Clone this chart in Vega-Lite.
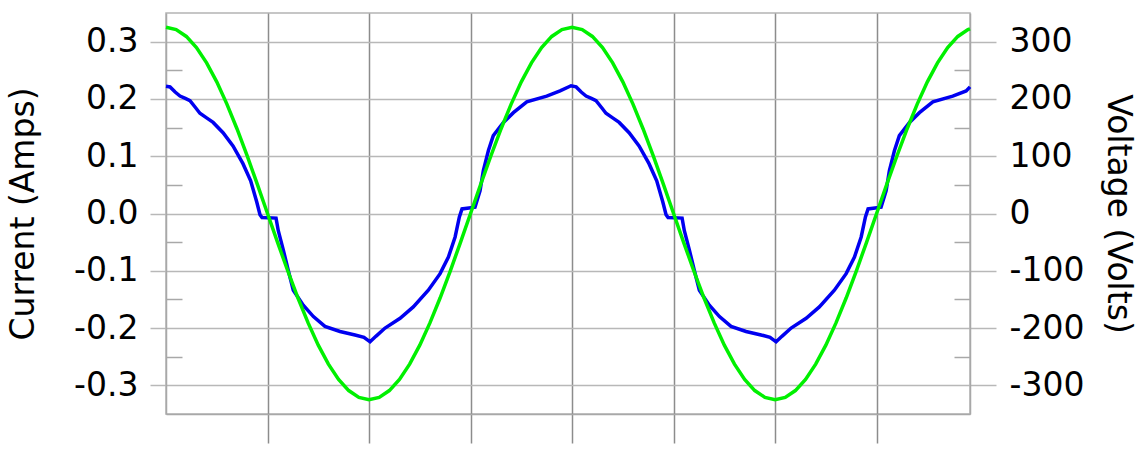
{
  "$schema": "https://vega.github.io/schema/vega-lite/v6.json",
  "width": 804,
  "height": 401,
  "autosize": "none",
  "padding": {"left": 166, "top": 13, "right": 174, "bottom": 36},
  "background": "white",
  "config": {
    "view": {"stroke": "#b4b4b4", "strokeWidth": 1.5},
    "axis": {
      "labelFont": "DejaVu Sans",
      "labelFontSize": 33,
      "labelColor": "#000000",
      "titleFont": "DejaVu Sans",
      "titleFontSize": 33,
      "titleFontWeight": "normal",
      "titleColor": "#000000",
      "domainColor": "#a8a8a8",
      "domainWidth": 1.5
    }
  },
  "datasets": {
    "cur": [
      {"t": 0, "current": 0.222}, {"t": 0.2, "current": 0.221}, {"t": 0.45, "current": 0.212}, {"t": 0.69, "current": 0.205},
      {"t": 0.95, "current": 0.201}, {"t": 1.18, "current": 0.197}, {"t": 1.45, "current": 0.185}, {"t": 1.67, "current": 0.175},
      {"t": 2.0, "current": 0.167}, {"t": 2.32, "current": 0.159}, {"t": 2.81, "current": 0.141}, {"t": 3.3, "current": 0.118},
      {"t": 3.79, "current": 0.087}, {"t": 4.17, "current": 0.057}, {"t": 4.47, "current": 0.02}, {"t": 4.63, "current": -0.002},
      {"t": 4.73, "current": -0.007}, {"t": 5.42, "current": -0.008}, {"t": 5.53, "current": -0.03}, {"t": 5.78, "current": -0.064},
      {"t": 6.02, "current": -0.099}, {"t": 6.27, "current": -0.134}, {"t": 6.76, "current": -0.16}, {"t": 7.26, "current": -0.18},
      {"t": 7.83, "current": -0.197}, {"t": 8.57, "current": -0.206}, {"t": 9.31, "current": -0.212}, {"t": 9.75, "current": -0.216},
      {"t": 10.05, "current": -0.224}, {"t": 10.35, "current": -0.214}, {"t": 10.79, "current": -0.2}, {"t": 11.53, "current": -0.183},
      {"t": 12.18, "current": -0.163}, {"t": 12.92, "current": -0.134}, {"t": 13.5, "current": -0.105}, {"t": 13.91, "current": -0.076},
      {"t": 14.24, "current": -0.041}, {"t": 14.45, "current": -0.006}, {"t": 14.58, "current": 0.008}, {"t": 15.22, "current": 0.011},
      {"t": 15.47, "current": 0.04}, {"t": 15.63, "current": 0.075}, {"t": 15.88, "current": 0.11}, {"t": 16.12, "current": 0.136},
      {"t": 16.62, "current": 0.159}, {"t": 17.11, "current": 0.176}, {"t": 17.77, "current": 0.195}, {"t": 18.75, "current": 0.205},
      {"t": 19.41, "current": 0.214}, {"t": 19.95, "current": 0.223},
      {"t": 20.2, "current": 0.221}, {"t": 20.45, "current": 0.212}, {"t": 20.69, "current": 0.205},
      {"t": 20.95, "current": 0.201}, {"t": 21.18, "current": 0.197}, {"t": 21.45, "current": 0.185}, {"t": 21.67, "current": 0.175},
      {"t": 22.0, "current": 0.167}, {"t": 22.32, "current": 0.159}, {"t": 22.81, "current": 0.141}, {"t": 23.3, "current": 0.118},
      {"t": 23.79, "current": 0.087}, {"t": 24.17, "current": 0.057}, {"t": 24.47, "current": 0.02}, {"t": 24.63, "current": -0.002},
      {"t": 24.73, "current": -0.007}, {"t": 25.42, "current": -0.008}, {"t": 25.53, "current": -0.03}, {"t": 25.78, "current": -0.064},
      {"t": 26.02, "current": -0.099}, {"t": 26.27, "current": -0.134}, {"t": 26.76, "current": -0.16}, {"t": 27.26, "current": -0.18},
      {"t": 27.83, "current": -0.197}, {"t": 28.57, "current": -0.206}, {"t": 29.31, "current": -0.212}, {"t": 29.75, "current": -0.216},
      {"t": 30.05, "current": -0.224}, {"t": 30.35, "current": -0.214}, {"t": 30.79, "current": -0.2}, {"t": 31.53, "current": -0.183},
      {"t": 32.18, "current": -0.163}, {"t": 32.92, "current": -0.134}, {"t": 33.5, "current": -0.105}, {"t": 33.91, "current": -0.076},
      {"t": 34.24, "current": -0.041}, {"t": 34.45, "current": -0.006}, {"t": 34.58, "current": 0.008}, {"t": 35.22, "current": 0.011},
      {"t": 35.47, "current": 0.04}, {"t": 35.63, "current": 0.075}, {"t": 35.88, "current": 0.11}, {"t": 36.12, "current": 0.136},
      {"t": 36.62, "current": 0.159}, {"t": 37.11, "current": 0.176}, {"t": 37.77, "current": 0.195}, {"t": 38.75, "current": 0.205},
      {"t": 39.41, "current": 0.214}, {"t": 39.6, "current": 0.221}
    ],
    "volt": [
      {"t": 0, "voltage": 325}, {"t": 0.5, "voltage": 321}, {"t": 1, "voltage": 309.1}, {"t": 1.5, "voltage": 289.6},
      {"t": 2, "voltage": 262.9}, {"t": 2.5, "voltage": 229.8}, {"t": 3, "voltage": 191}, {"t": 3.5, "voltage": 147.5},
      {"t": 4, "voltage": 100.4}, {"t": 4.5, "voltage": 50.8}, {"t": 5, "voltage": 0}, {"t": 5.5, "voltage": -50.8},
      {"t": 6, "voltage": -100.4}, {"t": 6.5, "voltage": -147.5}, {"t": 7, "voltage": -191}, {"t": 7.5, "voltage": -229.8},
      {"t": 8, "voltage": -262.9}, {"t": 8.5, "voltage": -289.6}, {"t": 9, "voltage": -309.1}, {"t": 9.5, "voltage": -321},
      {"t": 10, "voltage": -325}, {"t": 10.5, "voltage": -321}, {"t": 11, "voltage": -309.1}, {"t": 11.5, "voltage": -289.6},
      {"t": 12, "voltage": -262.9}, {"t": 12.5, "voltage": -229.8}, {"t": 13, "voltage": -191}, {"t": 13.5, "voltage": -147.5},
      {"t": 14, "voltage": -100.4}, {"t": 14.5, "voltage": -50.8}, {"t": 15, "voltage": 0}, {"t": 15.5, "voltage": 50.8},
      {"t": 16, "voltage": 100.4}, {"t": 16.5, "voltage": 147.5}, {"t": 17, "voltage": 191}, {"t": 17.5, "voltage": 229.8},
      {"t": 18, "voltage": 262.9}, {"t": 18.5, "voltage": 289.6}, {"t": 19, "voltage": 309.1}, {"t": 19.5, "voltage": 321},
      {"t": 20, "voltage": 325}, {"t": 20.5, "voltage": 321}, {"t": 21, "voltage": 309.1}, {"t": 21.5, "voltage": 289.6},
      {"t": 22, "voltage": 262.9}, {"t": 22.5, "voltage": 229.8}, {"t": 23, "voltage": 191}, {"t": 23.5, "voltage": 147.5},
      {"t": 24, "voltage": 100.4}, {"t": 24.5, "voltage": 50.8}, {"t": 25, "voltage": 0}, {"t": 25.5, "voltage": -50.8},
      {"t": 26, "voltage": -100.4}, {"t": 26.5, "voltage": -147.5}, {"t": 27, "voltage": -191}, {"t": 27.5, "voltage": -229.8},
      {"t": 28, "voltage": -262.9}, {"t": 28.5, "voltage": -289.6}, {"t": 29, "voltage": -309.1}, {"t": 29.5, "voltage": -321},
      {"t": 30, "voltage": -325}, {"t": 30.5, "voltage": -321}, {"t": 31, "voltage": -309.1}, {"t": 31.5, "voltage": -289.6},
      {"t": 32, "voltage": -262.9}, {"t": 32.5, "voltage": -229.8}, {"t": 33, "voltage": -191}, {"t": 33.5, "voltage": -147.5},
      {"t": 34, "voltage": -100.4}, {"t": 34.5, "voltage": -50.8}, {"t": 35, "voltage": 0}, {"t": 35.5, "voltage": 50.8},
      {"t": 36, "voltage": 100.4}, {"t": 36.5, "voltage": 147.5}, {"t": 37, "voltage": 191}, {"t": 37.5, "voltage": 229.8},
      {"t": 38, "voltage": 262.9}, {"t": 38.5, "voltage": 289.6}, {"t": 39, "voltage": 309.1}, {"t": 39.5, "voltage": 321},
      {"t": 39.6, "voltage": 322.4}
    ]
  },
  "encoding": {
    "x": {
      "field": "t",
      "type": "quantitative",
      "scale": {"domain": [0, 39.6], "nice": false, "zero": false},
      "axis": {
        "values": [5, 10, 15, 20, 25, 30, 35],
        "labels": false,
        "title": null,
        "grid": true,
        "gridColor": "#8c8c8c",
        "gridWidth": 1.5,
        "ticks": true,
        "tickSize": 29,
        "tickColor": "#8c8c8c",
        "tickWidth": 1.5
      }
    }
  },
  "layer": [
    {
      "data": {"name": "cur"},
      "mark": {"type": "line", "color": "#0000f0", "strokeWidth": 3.5},
      "encoding": {
        "y": {
          "field": "current",
          "type": "quantitative",
          "scale": {"domain": [-0.35, 0.35], "nice": false, "zero": false},
          "axis": {
            "orient": "left",
            "values": [-0.3, -0.2, -0.1, 0, 0.1, 0.2, 0.3],
            "labelExpr": "(datum.value < -0.001 ? '-' : '') + format(abs(datum.value), '.1f')",
            "title": "Current (Amps)",
            "titlePadding": 33,
            "labelPadding": 12,
            "grid": true,
            "gridColor": "#b8b8b8",
            "gridWidth": 1.5,
            "tickSize": 16,
            "tickColor": "#b8b8b8",
            "tickWidth": 1.5
          }
        }
      }
    },
    {
      "data": {"name": "cur"},
      "mark": {"type": "line", "strokeOpacity": 0},
      "encoding": {
        "y": {
          "field": "current",
          "type": "quantitative",
          "scale": {"domain": [-0.35, 0.35], "nice": false, "zero": false},
          "axis": {
            "orient": "left",
            "values": [-0.25, -0.15, -0.05, 0.05, 0.15, 0.25],
            "labels": false,
            "title": null,
            "domain": false,
            "grid": false,
            "offset": -16,
            "tickSize": 16,
            "tickColor": "#a8a8a8",
            "tickWidth": 1.5
          }
        }
      }
    },
    {
      "data": {"name": "volt"},
      "mark": {"type": "line", "strokeOpacity": 0},
      "encoding": {
        "y": {
          "field": "voltage",
          "type": "quantitative",
          "scale": {"domain": [-350, 350], "nice": false, "zero": false},
          "axis": {
            "orient": "right",
            "values": [-250, -150, -50, 50, 150, 250],
            "labels": false,
            "title": null,
            "domain": false,
            "grid": false,
            "offset": -16,
            "tickSize": 16,
            "tickColor": "#a8a8a8",
            "tickWidth": 1.5
          }
        }
      }
    },
    {
      "data": {"name": "volt"},
      "mark": {"type": "line", "color": "#00f000", "strokeWidth": 3.5},
      "encoding": {
        "y": {
          "field": "voltage",
          "type": "quantitative",
          "scale": {"domain": [-350, 350], "nice": false, "zero": false},
          "axis": {
            "orient": "right",
            "values": [-300, -200, -100, 0, 100, 200, 300],
            "labelExpr": "(datum.value < 0 ? '-' : '') + format(abs(datum.value), 'd')",
            "title": "Voltage (Volts)",
            "titlePadding": 17,
            "labelPadding": 13,
            "grid": false,
            "tickSize": 26,
            "tickColor": "#b8b8b8",
            "tickWidth": 1.5
          }
        }
      }
    }
  ],
  "resolve": {"scale": {"y": "independent"}}
}
